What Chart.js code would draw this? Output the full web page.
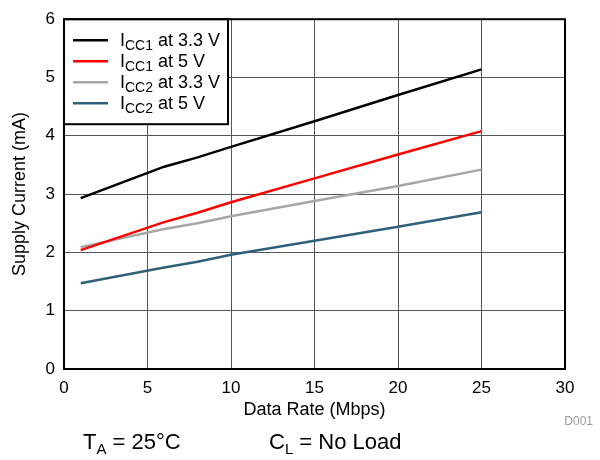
<!DOCTYPE html>
<html>
<head>
<meta charset="utf-8">
<script src="https://cdn.jsdelivr.net/npm/chart.js@4.4.1/dist/chart.umd.min.js"></script>
<style>
  html, body { margin: 0; padding: 0; background: #fff; }
  #wrap { width: 600px; height: 460px; position: relative; }
</style>
</head>
<body>
<div id="wrap"><canvas id="c" width="600" height="460"></canvas></div>
<script>
// ---- data ----
const dataRate = [1, 6, 8, 10, 15, 20, 25];
const icc1_33 = [2.93, 3.47, 3.63, 3.81, 4.25, 4.70, 5.14];
const icc1_5  = [2.04, 2.52, 2.68, 2.86, 3.27, 3.68, 4.08];
const icc2_33 = [2.09, 2.40, 2.50, 2.62, 2.88, 3.14, 3.42];
const icc2_5  = [1.47, 1.74, 1.84, 1.96, 2.20, 2.44, 2.69];
const seriesMain = ['I', 'I', 'I', 'I'];
const seriesSub = ['CC1', 'CC1', 'CC2', 'CC2'];
const seriesRest = [' at 3.3 V', ' at 5 V', ' at 3.3 V', ' at 5 V'];
const seriesColors = ['#000000', '#ff0000', '#a6a6a6', '#2f6079'];
const seriesValues = [icc1_33, icc1_5, icc2_33, icc2_5];
const xTicks = [0, 5, 10, 15, 20, 25, 30];
const yTicks = [0, 1, 2, 3, 4, 5, 6];
const xTitle = 'Data Rate (Mbps)';
const yTitle = 'Supply Current (mA)';
const noteId = 'D001';
const condA = { main: 'T', sub: 'A', rest: ' = 25°C' };
const condB = { main: 'C', sub: 'L', rest: ' = No Load' };

const FONT = "'Liberation Sans', Arial, sans-serif";

const datasets = seriesValues.map((vals, i) => ({
  label: seriesMain[i] + seriesSub[i] + seriesRest[i],
  data: dataRate.map((x, j) => ({ x: x, y: vals[j] })),
  borderColor: seriesColors[i],
  backgroundColor: seriesColors[i],
  borderWidth: 2.5,
  pointRadius: 0,
  tension: 0,
  fill: false
}));

function drawSubText(ctx, x, y, main, sub, rest, size, subSize, subShift) {
  ctx.textAlign = 'left';
  ctx.textBaseline = 'alphabetic';
  ctx.font = size + 'px ' + FONT;
  ctx.fillText(main, x, y);
  x += ctx.measureText(main).width;
  ctx.font = subSize + 'px ' + FONT;
  ctx.fillText(sub, x, y + subShift);
  x += ctx.measureText(sub).width;
  ctx.font = size + 'px ' + FONT;
  ctx.fillText(rest, x, y);
}

const decor = {
  id: 'decor',
  afterDatasetsDraw(chart) {
    const ctx = chart.ctx;
    const a = chart.chartArea;
    ctx.save();
    // legend box
    const bx = a.left, by = a.top, bw = 164, bh = 105;
    ctx.fillStyle = '#fff';
    ctx.fillRect(bx, by, bw, bh);
    ctx.strokeStyle = '#000';
    ctx.lineWidth = 2;
    ctx.strokeRect(bx, by, bw, bh);
    chart.data.datasets.forEach((ds, i) => {
      const y = by + 21 + i * 21;
      ctx.strokeStyle = ds.borderColor;
      ctx.lineWidth = 2.5;
      ctx.beginPath();
      ctx.moveTo(bx + 9, y);
      ctx.lineTo(bx + 44, y);
      ctx.stroke();
      ctx.fillStyle = '#000';
      drawSubText(ctx, bx + 56, y + 6, seriesMain[i], seriesSub[i], seriesRest[i], 18, 14, 4);
    });
    // plot border
    ctx.strokeStyle = '#000';
    ctx.lineWidth = 2;
    ctx.strokeRect(a.left, a.top, a.right - a.left, a.bottom - a.top);
    ctx.restore();
  },
  afterDraw(chart) {
    const ctx = chart.ctx;
    ctx.save();
    ctx.fillStyle = '#000';
    drawSubText(ctx, 83, 449, condA.main, condA.sub, condA.rest, 22, 15, 5);
    drawSubText(ctx, 269, 449, condB.main, condB.sub, condB.rest, 22, 15, 5);
    ctx.fillStyle = '#999';
    ctx.font = '12px ' + FONT;
    ctx.textAlign = 'right';
    ctx.fillText(noteId, 593, 425);
    ctx.restore();
  }
};

new Chart(document.getElementById('c'), {
  type: 'line',
  data: { datasets: datasets },
  plugins: [decor],
  options: {
    responsive: false,
    animation: false,
    devicePixelRatio: 1,
    layout: { padding: { left: 0, top: 12, right: 35, bottom: 39 } },
    plugins: { legend: { display: false }, tooltip: { enabled: false } },
    scales: {
      x: {
        type: 'linear',
        min: xTicks[0],
        max: xTicks[xTicks.length - 1],
        afterBuildTicks: (s) => { s.ticks = xTicks.map(v => ({ value: v })); },
        afterFit: (s) => { s.height = 52; },
        grid: { color: '#555', lineWidth: 1, drawTicks: false },
        border: { display: false },
        ticks: { color: '#000', padding: 9, font: { family: FONT, size: 17 }, maxRotation: 0 },
        title: { display: true, text: xTitle, color: '#000', font: { family: FONT, size: 18 }, padding: { top: 0, bottom: 0 } }
      },
      y: {
        type: 'linear',
        min: yTicks[0],
        max: yTicks[yTicks.length - 1],
        afterBuildTicks: (s) => { s.ticks = yTicks.map(v => ({ value: v })); },
        afterFit: (s) => { s.width = 64; },
        grid: { color: '#555', lineWidth: 1, drawTicks: false },
        border: { display: false },
        ticks: { color: '#000', padding: 9, font: { family: FONT, size: 17 } },
        title: { display: true, text: yTitle, color: '#000', font: { family: FONT, size: 18 }, padding: { top: 9, bottom: 0 } }
      }
    }
  }
});
</script>
</body>
</html>
